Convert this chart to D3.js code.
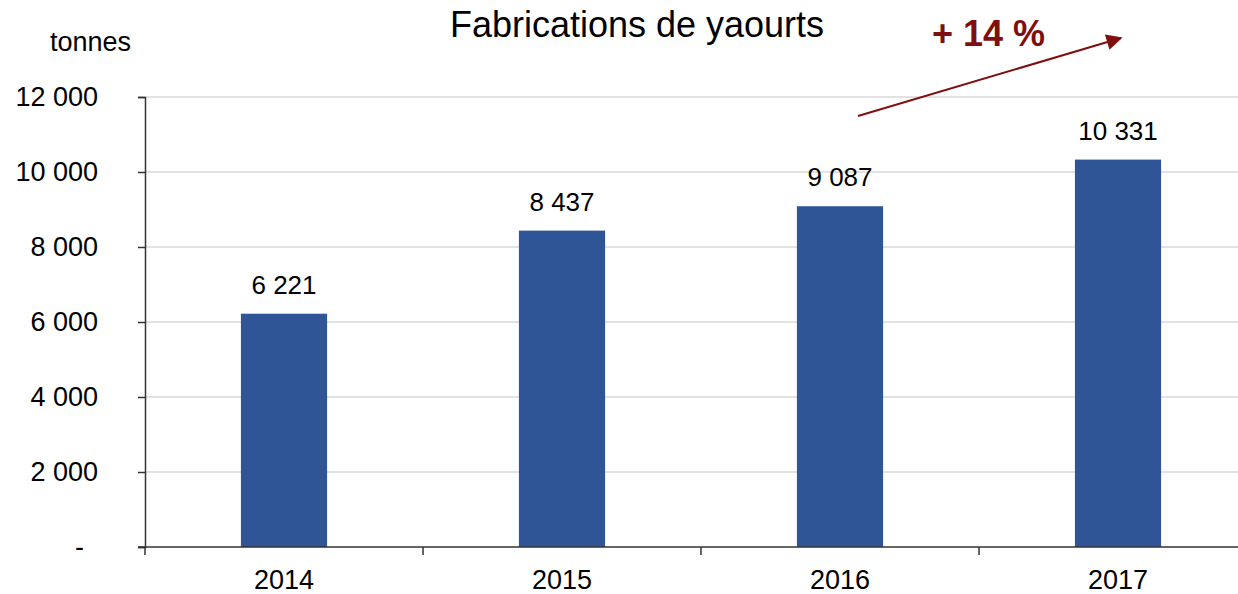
<!DOCTYPE html>
<html>
<head>
<meta charset="utf-8">
<script src="https://cdn.jsdelivr.net/npm/d3@7"></script>
<style>
  body { margin: 0; background: #fff; }
  svg text { font-family: "Liberation Sans", Arial, sans-serif; fill: #000; }
</style>
</head>
<body>
<div id="chart"></div>
<script>
// chart data
const years = ["2014", "2015", "2016", "2017"];
const tonnes = [6221, 8437, 9087, 10331];
const yTicks = [0, 2000, 4000, 6000, 8000, 10000, 12000];
const title = "Fabrications de yaourts";
const unitLabel = "tonnes";
const growthLabel = "+ 14 %";

const width = 1238, height = 594;
const barColor = "#2f5597";
const arrowColor = "#7f0f0f";

const svg = d3.select("#chart").append("svg")
    .attr("width", width)
    .attr("height", height);

// scales
const x = d3.scaleBand()
    .domain(years)
    .range([145, 1257])
    .paddingInner(0.69)
    .paddingOuter(0.345);

const y = d3.scaleLinear()
    .domain([0, 12000])
    .range([547, 97]);

const fmt = d => d === 0 ? "-" : d3.format(",")(d).replace(/,/g, " ");

// gridlines
svg.append("g")
    .selectAll("line")
    .data(yTicks.filter(d => d > 0))
    .join("line")
    .attr("x1", 146).attr("x2", width)
    .attr("y1", d => y(d)).attr("y2", d => y(d))
    .attr("stroke", "#d9d9d9")
    .attr("stroke-width", 1.5);

// bars
svg.append("g")
    .selectAll("rect")
    .data(years)
    .join("rect")
    .attr("x", d => x(d))
    .attr("y", (d, i) => y(tonnes[i]))
    .attr("width", x.bandwidth())
    .attr("height", (d, i) => y(0) - y(tonnes[i]))
    .attr("fill", barColor);

// value labels
svg.append("g")
    .selectAll("text")
    .data(years)
    .join("text")
    .attr("x", d => x(d) + x.bandwidth() / 2)
    .attr("y", (d, i) => y(tonnes[i]) - 20)
    .attr("text-anchor", "middle")
    .attr("font-size", 26)
    .text((d, i) => fmt(tonnes[i]));

// y axis
const leftAxis = d3.axisLeft(y)
    .tickValues(yTicks)
    .tickSize(7)
    .tickPadding(40)
    .tickFormat(fmt);

const gy = svg.append("g")
    .attr("transform", "translate(145,0)")
    .call(leftAxis);
gy.select(".domain").attr("stroke", "#333").attr("stroke-width", 1.5);
gy.selectAll(".tick line").attr("stroke", "#333").attr("stroke-width", 1.5);
gy.selectAll(".tick text")
    .attr("font-size", 27)
    .attr("font-family", "Liberation Sans, Arial, sans-serif")
    .attr("fill", "#000")
    .attr("dx", d => d === 0 ? -14 : 0);

// x axis: line plus ticks on band boundaries
const gx = svg.append("g").attr("transform", "translate(0,547)");
gx.append("line")
    .attr("x1", 138).attr("x2", width)
    .attr("stroke", "#333").attr("stroke-width", 1.5);
const bounds = years.map(d => x(d) + x.bandwidth() / 2 - x.step() / 2);
gx.selectAll(".bt")
    .data(bounds)
    .join("line")
    .attr("class", "bt")
    .attr("x1", d => d).attr("x2", d => d)
    .attr("y1", 0).attr("y2", 8)
    .attr("stroke", "#333").attr("stroke-width", 1.5);
gx.selectAll("text")
    .data(years)
    .join("text")
    .attr("x", d => x(d) + x.bandwidth() / 2)
    .attr("y", 42)
    .attr("text-anchor", "middle")
    .attr("font-size", 27)
    .text(d => d);

// title and unit
svg.append("text")
    .attr("x", 637).attr("y", 37)
    .attr("text-anchor", "middle")
    .attr("font-size", 36)
    .text(title);

svg.append("text")
    .attr("x", 50).attr("y", 51)
    .attr("font-size", 27)
    .text(unitLabel);

// growth arrow annotation
svg.append("defs").append("marker")
    .attr("id", "head")
    .attr("viewBox", "0 0 10 10")
    .attr("refX", 9).attr("refY", 5)
    .attr("markerWidth", 9).attr("markerHeight", 8)
    .attr("markerUnits", "strokeWidth")
    .attr("orient", "auto")
    .append("path")
    .attr("d", "M0,0 L10,5 L0,10 Z")
    .attr("fill", arrowColor);

svg.append("line")
    .attr("x1", 858).attr("y1", 116)
    .attr("x2", 1121).attr("y2", 38)
    .attr("stroke", arrowColor)
    .attr("stroke-width", 2)
    .attr("marker-end", "url(#head)");

svg.append("text")
    .attr("x", 932).attr("y", 46)
    .attr("font-size", 36)
    .attr("font-weight", "bold")
    .style("fill", arrowColor)
    .text(growthLabel);
</script>
</body>
</html>
